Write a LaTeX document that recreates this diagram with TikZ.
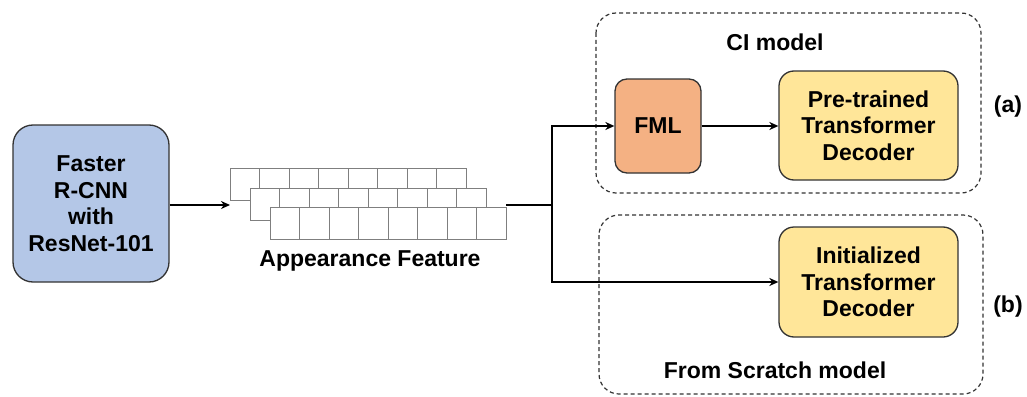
\documentclass[tikz,border=0pt]{standalone}
\usepackage{fontspec}
\setmainfont{Liberation Sans}
\usetikzlibrary{arrows.meta}
\definecolor{edgegray}{HTML}{333333}
\definecolor{cellgray}{HTML}{7F7F7F}
\definecolor{rcnnblue}{HTML}{B4C7E7}
\definecolor{fmlorange}{HTML}{F4B183}
\definecolor{decyellow}{HTML}{FFE699}
\tikzset{
  x=1pt, y=-1pt,
  lbl/.style={font=\fontsize{23}{26.5}\selectfont\bfseries, align=center, inner sep=0pt},
  blockbox/.style={draw=edgegray, line width=1.3pt, inner sep=0pt, lbl},
  groupbox/.style={draw=edgegray, line width=1.2pt, dash pattern=on 4pt off 3pt, rounded corners=20pt},
  flow/.style={line width=1.8pt, -{Stealth[length=9pt,width=8pt]}},
  plainflow/.style={line width=1.8pt},
  cell/.style={draw=cellgray, line width=0.9pt, fill=white},
}
\begin{document}
\begin{tikzpicture}
\useasboundingbox (0,0) rectangle (1027,396);

% group frames
\draw[groupbox] (596,13) rectangle (981,193);
\draw[groupbox] (599,215) rectangle (983,394);
\node[lbl] (cilabel) at (775,42) {CI model};
\node[lbl] (fslabel) at (775,370) {From Scratch model};
\node[lbl] (tagA) at (1008,107) {(a)};
\node[lbl] (tagB) at (1008,307) {(b)};

% blocks
\node[blockbox, fill=rcnnblue, rounded corners=20pt, minimum width=156pt, minimum height=157pt]
  (rcnn) at (91,203.5) {Faster\\R-CNN\\with\\ResNet-101};
\node[blockbox, fill=fmlorange, rounded corners=12pt, minimum width=86pt, minimum height=94pt]
  (fml) at (658,126) {FML};
\node[blockbox, fill=decyellow, rounded corners=15pt, minimum width=179pt, minimum height=109pt]
  (pre) at (868.5,125.5) {Pre-trained\\Transformer\\Decoder};
\node[blockbox, fill=decyellow, rounded corners=15pt, minimum width=179pt, minimum height=110pt]
  (init) at (868.5,282) {Initialized\\Transformer\\Decoder};

% appearance feature: three staggered rows of eight cells
\foreach \ox/\oy in {230/168, 250/188, 270/207} {
  \foreach \i in {0,...,7} {
    \draw[cell] ({\ox+29.5*\i},\oy) rectangle ++(29.5,32.5);
  }
}
\node[lbl] (featlabel) at (370,261) {Appearance Feature};
\coordinate (featin) at (230,205);
\coordinate (featout) at (506,205);
\coordinate (split) at (552,205);
\coordinate (splittop) at (552,126);
\coordinate (splitbot) at (552,282);

% connectors
\draw[flow] (rcnn.east |- featin) -- (featin);
\draw[plainflow] (featout) -- (split);
\draw[flow] (split) -- (splittop) -- (fml.west);
\draw[flow] (split) -- (splitbot) -- (init.west);
\draw[flow] (fml.east) -- (pre.west |- fml.east);
\end{tikzpicture}
\end{document}
